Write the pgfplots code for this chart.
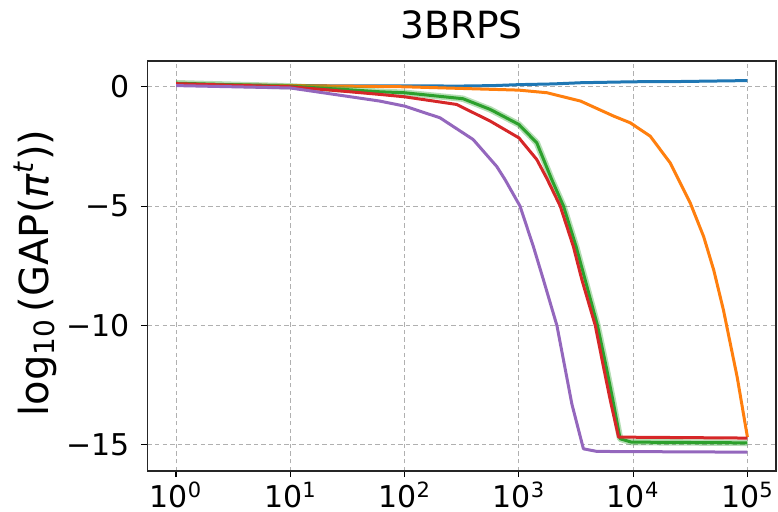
\documentclass[border=0pt]{standalone}
\usepackage{fontspec}
\setmainfont{DejaVu Sans}
\usepackage{pgfplots}
\pgfplotsset{compat=1.18}

\definecolor{tabblue}{HTML}{1F77B4}
\definecolor{taborange}{HTML}{FF7F0E}
\definecolor{tabgreen}{HTML}{2CA02C}
\definecolor{tabred}{HTML}{D62728}
\definecolor{tabpurple}{HTML}{9467BD}
\definecolor{gridgray}{HTML}{B0B0B0}

\begin{document}
\begin{tikzpicture}
\path[use as bounding box] (0,0) rectangle (389pt,255.5pt);
\begin{axis}[
    at={(73.75pt,20pt)}, anchor=south west,
    scale only axis,
    width=314.25pt, height=205pt,
    xmode=log, log basis x=10,
    xmin=0.5623, xmax=177828,
    ymin=-16.1, ymax=1.08,
    xtick={1,10,100,1000,10000,100000},
    xticklabels={10\textsuperscript{0},10\textsuperscript{1},10\textsuperscript{2},10\textsuperscript{3},10\textsuperscript{4},10\textsuperscript{5}},
    minor xtick={},
    ytick={0,-5,-10,-15},
    yticklabels={0,−5,−10,−15},
    xtick pos=bottom, ytick pos=left,
    tick align=outside,
    major tick length=3pt,
    tick style={black, line width=0.6pt},
    axis line style={black!85, line width=0.7pt},
    grid=major,
    major grid style={gridgray, dashed, line width=0.5pt, dash pattern=on 2.2pt off 1.6pt},
    tick label style={font=\fontsize{15}{18}\selectfont},
    y tick label style={xshift=-2.5pt},
    x tick label style={inner ysep=0pt, yshift=-2.2pt},
    title={3BRPS},
    title style={font=\fontsize{18.75}{22}\selectfont, at={(0.5,1)}, anchor=base, yshift=5.5pt},
    ylabel={log\textsubscript{10}\,(GAP(\textit{π}\textsuperscript{\textit{t}}))},
    every axis y label/.style={at={(axis description cs:-0.179,0.483)}, rotate=90, anchor=center, font=\fontsize{20}{24}\selectfont},
    every axis plot/.append style={line width=1.5pt, line join=round},
]
% blue
\addplot[tabblue] coordinates {
  (1,0.1) (3,0.08) (10,0.05) (30,0.04) (100,0.04) (300,0.03) (600,0.05)
  (1000,0.09) (2000,0.12) (3500,0.17) (10000,0.21) (25000,0.22)
  (50000,0.24) (100000,0.26)
};
% orange
\addplot[taborange] coordinates {
  (1,0.12) (10,0.05) (100,0.0) (1000,-0.14) (1760,-0.25) (3470,-0.6)
  (6760,-1.23) (9440,-1.51) (14100,-2.07) (21100,-3.19) (31600,-4.87)
  (41400,-6.28) (50700,-7.68) (61700,-9.36) (70800,-10.76) (81300,-12.16)
  (93300,-13.84) (100000,-14.68)
};
% green (band + line)
\addplot[tabgreen, line width=3.2pt, opacity=0.35] coordinates {
  (1,0.15) (10,0.02) (31.6,-0.12) (60.8,-0.21) (100,-0.25) (324,-0.5)
  (562,-0.95) (1000,-1.58) (1435,-2.35) (1940,-3.89) (2455,-5.0)
  (3170,-6.7) (3800,-8.09) (4875,-10.0) (5810,-11.74) (6650,-13.14)
  (7690,-14.75) (9660,-14.89) (100000,-14.92)
};
\addplot[tabgreen] coordinates {
  (1,0.15) (10,0.02) (31.6,-0.12) (60.8,-0.21) (100,-0.25) (324,-0.5)
  (562,-0.95) (1000,-1.58) (1435,-2.35) (1940,-3.89) (2455,-5.0)
  (3170,-6.7) (3800,-8.09) (4875,-10.0) (5810,-11.74) (6650,-13.14)
  (7690,-14.75) (9660,-14.89) (100000,-14.92)
};
% red
\addplot[tabred] coordinates {
  (1,0.13) (10,0.0) (31.6,-0.2) (60.8,-0.32) (100,-0.42) (285,-0.74)
  (562,-1.44) (1000,-2.14) (1435,-3.05) (1760,-3.85) (2300,-5.0)
  (3000,-6.7) (3560,-8.09) (4660,-10.0) (5500,-11.74) (6310,-13.14)
  (7450,-14.68) (100000,-14.72)
};
% purple
\addplot[tabpurple] coordinates {
  (1,0.05) (10,-0.05) (31.6,-0.4) (60.8,-0.6) (100,-0.81) (204,-1.3)
  (398,-2.21) (640,-3.34) (757,-3.89) (1023,-5.0) (1340,-6.7) (1640,-8.09)
  (2150,-10.0) (2560,-11.9) (2910,-13.3) (3670,-15.17) (4820,-15.28)
  (100000,-15.31)
};
\end{axis}
\end{tikzpicture}
\end{document}
